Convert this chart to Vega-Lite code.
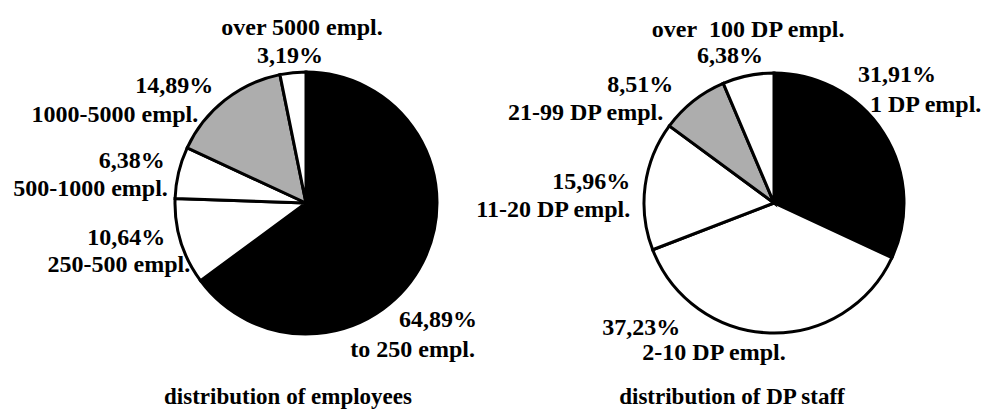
{
  "$schema": "https://vega.github.io/schema/vega-lite/v6.json",
  "padding": 0,
  "spacing": 0,
  "bounds": "flush",
  "background": "white",
  "data": {
    "values": [
      {"chart": "employees", "rank": 1, "name": "to 250 empl.", "share": 64.89, "pct": "64,89%"},
      {"chart": "employees", "rank": 2, "name": "250-500 empl.", "share": 10.64, "pct": "10,64%"},
      {"chart": "employees", "rank": 3, "name": "500-1000 empl.", "share": 6.38, "pct": "6,38%"},
      {"chart": "employees", "rank": 4, "name": "1000-5000 empl.", "share": 14.89, "pct": "14,89%"},
      {"chart": "employees", "rank": 5, "name": "over 5000 empl.", "share": 3.19, "pct": "3,19%"},
      {"chart": "DP staff", "rank": 1, "name": "1 DP empl.", "share": 31.91, "pct": "31,91%"},
      {"chart": "DP staff", "rank": 2, "name": "2-10 DP empl.", "share": 37.23, "pct": "37,23%"},
      {"chart": "DP staff", "rank": 3, "name": "11-20 DP empl.", "share": 15.96, "pct": "15,96%"},
      {"chart": "DP staff", "rank": 4, "name": "21-99 DP empl.", "share": 8.51, "pct": "8,51%"},
      {"chart": "DP staff", "rank": 5, "name": "over\u00a0 100 DP empl.", "share": 6.38, "pct": "6,38%"}
    ]
  },
  "config": {
    "view": {"stroke": null},
    "text": {"font": "Liberation Serif", "fontSize": 24, "fontWeight": "bold", "baseline": "middle", "fill": "#000000"},
    "title": {"font": "Liberation Serif", "fontSize": 23, "fontWeight": "bold", "color": "#000000", "orient": "bottom", "baseline": "middle", "offset": -17}
  },
  "hconcat": [
    {
      "width": 612,
      "height": 400,
      "title": {"text": "distribution of employees", "dx": -18},
      "transform": [{"filter": "datum.chart === 'employees'"}],
      "encoding": {
        "theta": {"field": "share", "type": "quantitative", "stack": true},
        "order": {"field": "rank", "type": "quantitative", "sort": "ascending"}
      },
      "layer": [
        {
          "mark": {"type": "arc", "radius": 131, "stroke": "#000000", "strokeWidth": 3},
          "encoding": {
            "color": {
              "field": "name", "type": "nominal", "legend": null,
              "scale": {
                "domain": ["to 250 empl.", "250-500 empl.", "500-1000 empl.", "1000-5000 empl.", "over 5000 empl.", "1 DP empl.", "2-10 DP empl.", "11-20 DP empl.", "21-99 DP empl.", "over\u00a0 100 DP empl."],
                "range": ["#000000", "#ffffff", "#ffffff", "#adadad", "#ffffff", "#000000", "#ffffff", "#ffffff", "#adadad", "#ffffff"]
              }
            }
          }
        },
        {"mark": {"type": "text", "radius": 140, "align": "right", "dx": 46, "dy": 54},
         "encoding": {"text": {"condition": {"test": "datum.name === 'to 250 empl.'", "field": "pct", "type": "nominal"}, "value": ""}}},
        {"mark": {"type": "text", "radius": 140, "align": "right", "dx": 44, "dy": 84},
         "encoding": {"text": {"condition": {"test": "datum.name === 'to 250 empl.'", "field": "name", "type": "nominal"}, "value": ""}}},
        {"mark": {"type": "text", "radius": 140, "align": "right", "dx": -7, "dy": -6},
         "encoding": {"text": {"condition": {"test": "datum.name === '250-500 empl.'", "field": "pct", "type": "nominal"}, "value": ""}}},
        {"mark": {"type": "text", "radius": 140, "align": "right", "dx": 18, "dy": 21},
         "encoding": {"text": {"condition": {"test": "datum.name === '250-500 empl.'", "field": "name", "type": "nominal"}, "value": ""}}},
        {"mark": {"type": "text", "radius": 140, "align": "right", "dx": -5, "dy": -10},
         "encoding": {"text": {"condition": {"test": "datum.name === '500-1000 empl.'", "field": "pct", "type": "nominal"}, "value": ""}}},
        {"mark": {"type": "text", "radius": 140, "align": "right", "dx": -2, "dy": 18},
         "encoding": {"text": {"condition": {"test": "datum.name === '500-1000 empl.'", "field": "name", "type": "nominal"}, "value": ""}}},
        {"mark": {"type": "text", "radius": 140, "align": "right", "dx": -6, "dy": -7},
         "encoding": {"text": {"condition": {"test": "datum.name === '1000-5000 empl.'", "field": "pct", "type": "nominal"}, "value": ""}}},
        {"mark": {"type": "text", "radius": 140, "align": "right", "dx": -21, "dy": 22},
         "encoding": {"text": {"condition": {"test": "datum.name === '1000-5000 empl.'", "field": "name", "type": "nominal"}, "value": ""}}},
        {"mark": {"type": "text", "radius": 140, "align": "center", "dx": -2, "dy": -8},
         "encoding": {"text": {"condition": {"test": "datum.name === 'over 5000 empl.'", "field": "pct", "type": "nominal"}, "value": ""}}},
        {"mark": {"type": "text", "radius": 140, "align": "center", "dx": 10, "dy": -36},
         "encoding": {"text": {"condition": {"test": "datum.name === 'over 5000 empl.'", "field": "name", "type": "nominal"}, "value": ""}}}
      ]
    },
    {
      "width": 324,
      "height": 400,
      "title": {"text": "distribution of DP staff", "dx": -42},
      "transform": [{"filter": "datum.chart === 'DP staff'"}],
      "encoding": {
        "theta": {"field": "share", "type": "quantitative", "stack": true},
        "order": {"field": "rank", "type": "quantitative", "sort": "ascending"}
      },
      "layer": [
        {
          "mark": {"type": "arc", "radius": 130, "stroke": "#000000", "strokeWidth": 3},
          "encoding": {
            "color": {
              "field": "name", "type": "nominal", "legend": null,
              "scale": {
                "domain": ["to 250 empl.", "250-500 empl.", "500-1000 empl.", "1000-5000 empl.", "over 5000 empl.", "1 DP empl.", "2-10 DP empl.", "11-20 DP empl.", "21-99 DP empl.", "over\u00a0 100 DP empl."],
                "range": ["#000000", "#ffffff", "#ffffff", "#adadad", "#ffffff", "#000000", "#ffffff", "#ffffff", "#adadad", "#ffffff"]
              }
            }
          }
        },
        {"mark": {"type": "text", "radius": 140, "align": "left", "dx": -34, "dy": -53},
         "encoding": {"text": {"condition": {"test": "datum.name === '1 DP empl.'", "field": "pct", "type": "nominal"}, "value": ""}}},
        {"mark": {"type": "text", "radius": 140, "align": "left", "dx": -22, "dy": -23},
         "encoding": {"text": {"condition": {"test": "datum.name === '1 DP empl.'", "field": "name", "type": "nominal"}, "value": ""}}},
        {"mark": {"type": "text", "radius": 140, "align": "left", "dx": -167, "dy": -15},
         "encoding": {"text": {"condition": {"test": "datum.name === '2-10 DP empl.'", "field": "pct", "type": "nominal"}, "value": ""}}},
        {"mark": {"type": "text", "radius": 140, "align": "left", "dx": -127, "dy": 10},
         "encoding": {"text": {"condition": {"test": "datum.name === '2-10 DP empl.'", "field": "name", "type": "nominal"}, "value": ""}}},
        {"mark": {"type": "text", "radius": 140, "align": "right", "dx": -5, "dy": -2},
         "encoding": {"text": {"condition": {"test": "datum.name === '11-20 DP empl.'", "field": "pct", "type": "nominal"}, "value": ""}}},
        {"mark": {"type": "text", "radius": 140, "align": "right", "dx": -5, "dy": 26},
         "encoding": {"text": {"condition": {"test": "datum.name === '11-20 DP empl.'", "field": "name", "type": "nominal"}, "value": ""}}},
        {"mark": {"type": "text", "radius": 140, "align": "right", "dx": -14, "dy": -8},
         "encoding": {"text": {"condition": {"test": "datum.name === '21-99 DP empl.'", "field": "pct", "type": "nominal"}, "value": ""}}},
        {"mark": {"type": "text", "radius": 140, "align": "right", "dx": -24, "dy": 20},
         "encoding": {"text": {"condition": {"test": "datum.name === '21-99 DP empl.'", "field": "name", "type": "nominal"}, "value": ""}}},
        {"mark": {"type": "text", "radius": 140, "align": "center", "dx": -16, "dy": -10},
         "encoding": {"text": {"condition": {"test": "datum.name === 'over\u00a0 100 DP empl.'", "field": "pct", "type": "nominal"}, "value": ""}}},
        {"mark": {"type": "text", "radius": 140, "align": "center", "dx": 2, "dy": -36},
         "encoding": {"text": {"condition": {"test": "datum.name === 'over\u00a0 100 DP empl.'", "field": "name", "type": "nominal"}, "value": ""}}}
      ]
    }
  ]
}
